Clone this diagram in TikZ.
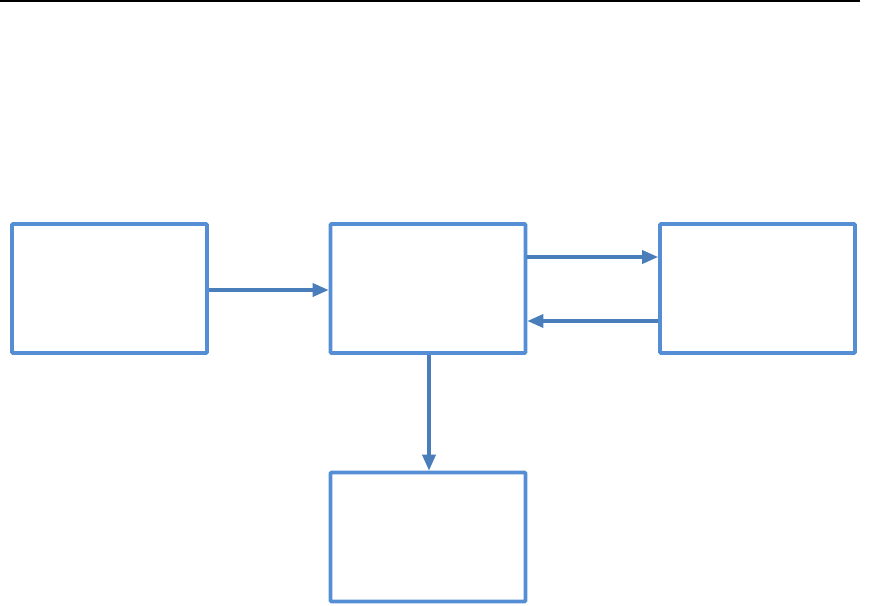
\documentclass[tikz,border=0pt]{standalone}
\usetikzlibrary{arrows.meta}
\definecolor{boxblue}{RGB}{85,142,213}
\definecolor{arrblue}{RGB}{74,126,187}
\begin{document}
\begin{tikzpicture}[x=1pt,y=-1pt,
  blockbox/.style={draw=boxblue,line width=3.6pt,rounded corners=1pt,minimum width=195pt,minimum height=129pt,inner sep=0pt},
  conn/.style={draw=arrblue,line width=3.4pt,-{Triangle[length=16pt,width=13pt]}}]
\useasboundingbox (0,0) rectangle (870,605);
\fill[white] (0,0) rectangle (870,605);
\coordinate (tl) at (0,1);
\coordinate (tr) at (860,1);
\draw[black,line width=1.8pt] (tl) -- (tr);
\node[blockbox] (a) at (109.5,288.5) {};
\node[blockbox] (b) at (428,288.5) {};
\node[blockbox] (c) at (757.5,288.5) {};
\node[blockbox] (d) at (428,537) {};
\draw[conn] (a.east |- 0,290) -- (b.west |- 0,290);
\draw[conn] (b.east |- 0,257) -- (c.west |- 0,257);
\draw[conn] (c.west |- 0,321) -- (b.east |- 0,321);
\draw[conn] (b.south -| 429,0) -- (d.north -| 429,0);
\end{tikzpicture}
\end{document}
